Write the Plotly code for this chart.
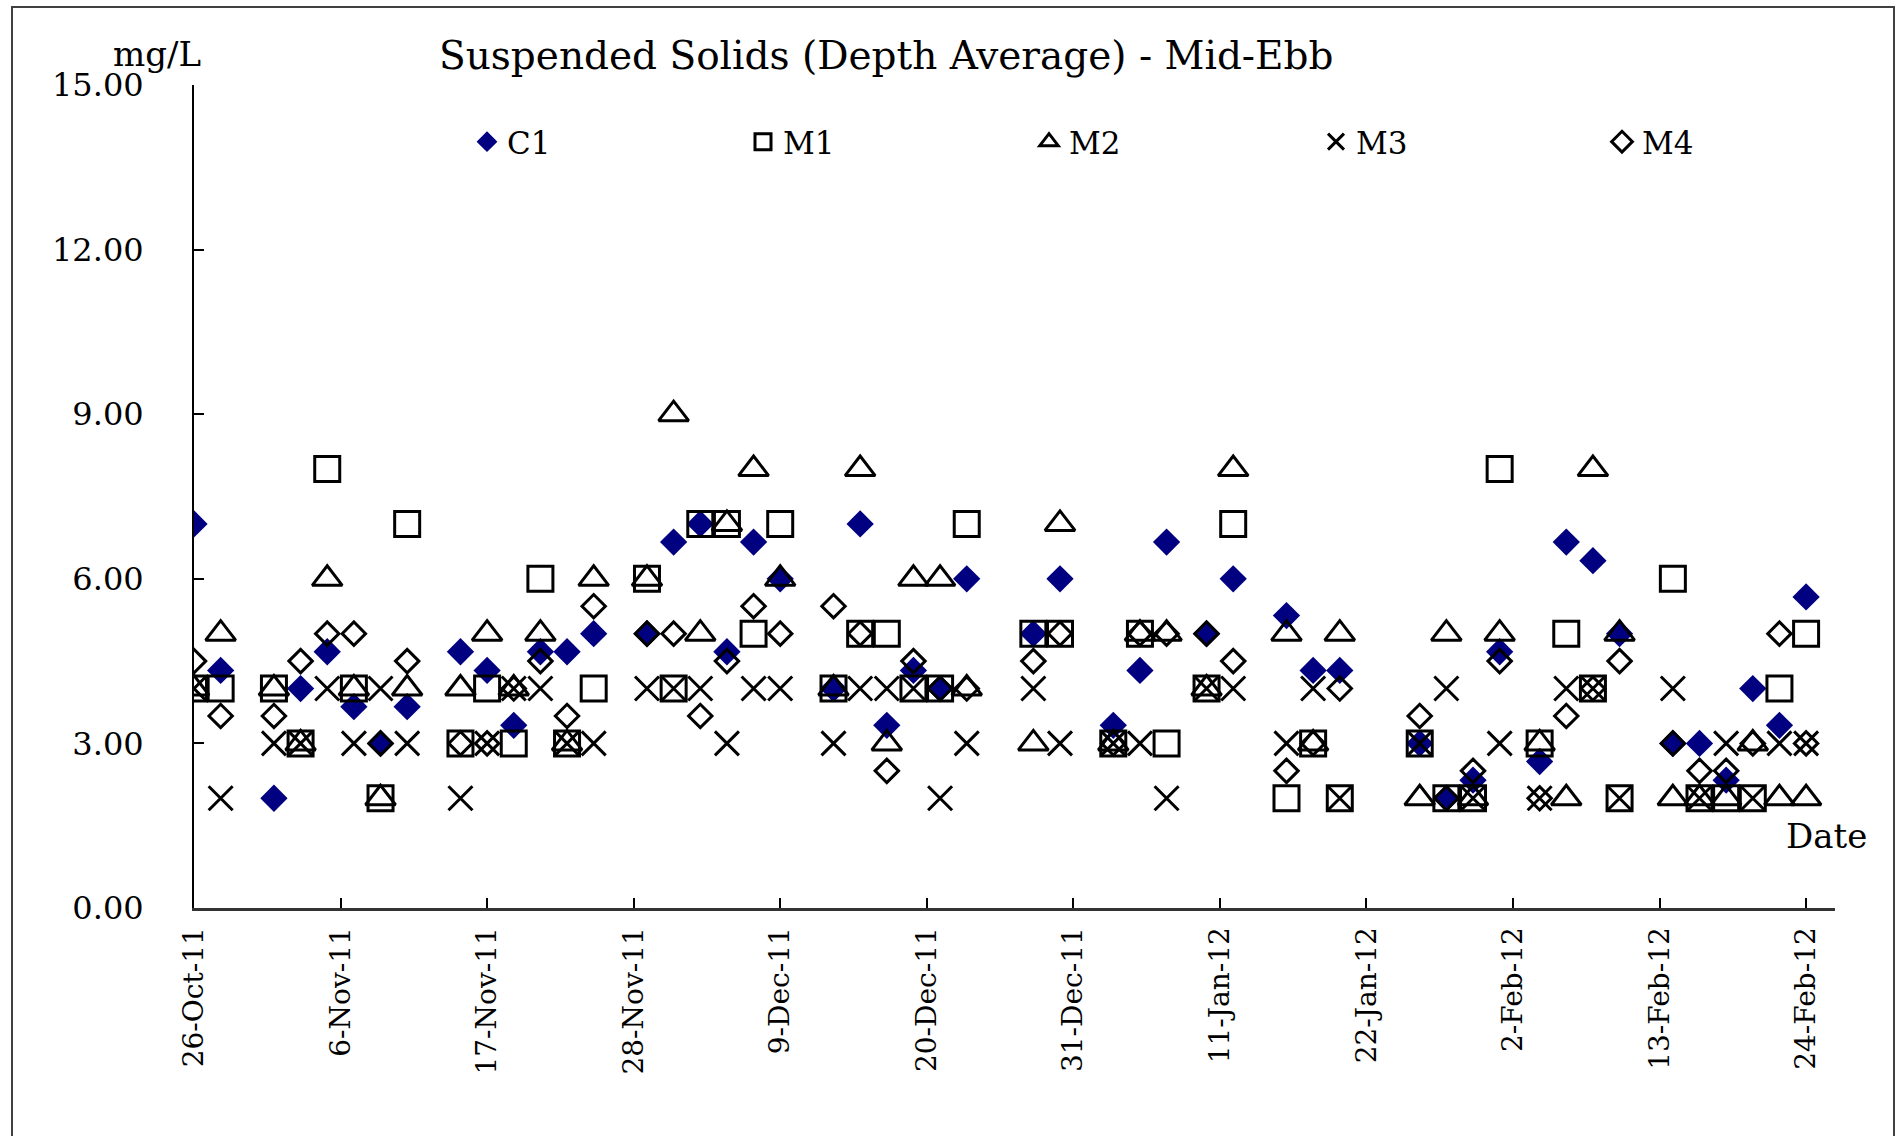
import plotly.graph_objects as go

# ---- data ----
dates = [
    "2011-10-26", "2011-10-28", "2011-11-01", "2011-11-03", "2011-11-05", "2011-11-07",
    "2011-11-09", "2011-11-11", "2011-11-15", "2011-11-17", "2011-11-19", "2011-11-21",
    "2011-11-23", "2011-11-25", "2011-11-29", "2011-12-01", "2011-12-03", "2011-12-05",
    "2011-12-07", "2011-12-09", "2011-12-13", "2011-12-15", "2011-12-17", "2011-12-19",
    "2011-12-21", "2011-12-23", "2011-12-28", "2011-12-30", "2012-01-03", "2012-01-05",
    "2012-01-07", "2012-01-10", "2012-01-12", "2012-01-16", "2012-01-18", "2012-01-20",
    "2012-01-26", "2012-01-28", "2012-01-30", "2012-02-01", "2012-02-04", "2012-02-06",
    "2012-02-08", "2012-02-10", "2012-02-14", "2012-02-16", "2012-02-18", "2012-02-20",
    "2012-02-22", "2012-02-24",
]
c1 = [7.0, 4.33, 2.0, 4.0, 4.67, 3.67, 3.0, 3.67, 4.67, 4.33, 3.33, 4.67, 4.67, 5.0,
      5.0, 6.67, 7.0, 4.67, 6.67, 6.0, 4.0, 7.0, 3.33, 4.33, 4.0, 6.0, 5.0, 6.0, 3.33,
      4.33, 6.67, 5.0, 6.0, 5.33, 4.33, 4.33, 3.0, 2.0, 2.33, 4.67, 2.67, 6.67, 6.33,
      5.0, 3.0, 3.0, 2.33, 4.0, 3.33, 5.67]
m1 = [4, 4, 4, 3, 8, 4, 2, 7, 3, 4, 3, 6, 3, 4, 6, 4, 7, 7, 5, 7, 4, 5, 5, 4, 4, 7,
      5, 5, 3, 5, 3, 4, 7, 2, 3, 2, 3, 2, 2, 8, 3, 5, 4, 2, 6, 2, 2, 2, 4, 5]
m2 = [4, 5, 4, 3, 6, 4, 2, 4, 4, 5, 4, 5, 3, 6, 6, 9, 5, 7, 8, 6, 4, 8, 3, 6, 6, 4,
      3, 7, 3, 5, 5, 4, 8, 5, 3, 5, 2, 5, 2, 5, 3, 2, 8, 5, 2, 2, 2, 3, 2, 2]
m3 = [4, 2, 3, 3, 4, 3, 4, 3, 2, 3, 4, 4, 3, 3, 4, 4, 4, 3, 4, 4, 3, 4, 4, 4, 2, 3,
      4, 3, 3, 3, 2, 4, 4, 3, 4, 2, 3, 4, 2, 3, 2, 4, 4, 2, 4, 2, 3, 2, 3, 3]
m4 = [4.5, 3.5, 3.5, 4.5, 5, 5, 3, 4.5, 3, 3, 4, 4.5, 3.5, 5.5, 5, 5, 3.5, 4.5, 5.5,
      5, 5.5, 5, 2.5, 4.5, 4, 4, 4.5, 5, 3, 5, 5, 5, 4.5, 2.5, 3, 4, 3.5, 2, 2.5, 4.5,
      2, 3.5, 4, 4.5, 3, 2.5, 2.5, 3, 5, 3]

series_names = ["C1", "M1", "M2", "M3", "M4"]
series_values = [c1, m1, m2, m3, m4]
y_ticks = [0, 3, 6, 9, 12, 15]

# ---- styles ----
styles = {
    "C1": dict(symbol="diamond", size=21, color="#000080", line=dict(width=0)),
    "M1": dict(symbol="square-open", size=25, color="black", line=dict(width=3, color="black")),
    "M2": dict(symbol="triangle-up-open", size=26, color="black", line=dict(width=3, color="black")),
    "M3": dict(symbol="x-thin-open", size=24, color="black", line=dict(width=3, color="black")),
    "M4": dict(symbol="diamond-open", size=18, color="black", line=dict(width=3, color="black")),
}
# legend symbol centres (px) for each series
legend_marker_x = {"C1": 487, "M1": 763, "M2": 1049, "M3": 1336, "M4": 1622}

FONT = "DejaVu Serif"

W, H = 1899, 1136
L, R, T, B = 194, 64, 85, 228
pw, ph = W - L - R, H - T - B


def px(x):
    return (x - L) / pw


def py(y):
    return (H - B - y) / ph


fig = go.Figure()
legend_layouts = {}
for i, (name, vals) in enumerate(zip(series_names, series_values)):
    lid = "legend" if i == 0 else f"legend{i + 1}"
    fig.add_trace(go.Scatter(x=dates, y=vals, mode="markers", name=name,
                             marker=styles[name], legend=lid,
                             hoverinfo="x+y+name"))
    legend_layouts[lid] = dict(
        x=px(legend_marker_x[name] - 20), y=py(142), xanchor="left", yanchor="middle",
        font=dict(family=FONT, size=31), bgcolor="rgba(0,0,0,0)", borderwidth=0,
        orientation="h",
    )

fig.update_layout(
    width=W, height=H,
    margin=dict(l=L, r=R, t=T, b=B, pad=0),
    paper_bgcolor="white", plot_bgcolor="white",
    font=dict(family=FONT, size=30, color="black"),
    showlegend=True,
    xaxis=dict(
        type="date", range=["2011-10-26", "2012-02-26 04:05"],
        tick0="2011-10-26", dtick=11 * 86400000, tickformat="%-d-%b-%y",
        tickangle=-90, ticks="inside", ticklen=10, tickwidth=2, tickcolor="black",
        showline=True, linecolor="#333333", linewidth=3, showgrid=False, zeroline=False,
        tickfont=dict(family=FONT, size=28), ticklabelstandoff=5,
    ),
    yaxis=dict(
        range=[0, 15], tickvals=y_ticks, tickformat=".2f",
        ticks="inside", ticklen=10, tickwidth=2, tickcolor="black",
        showline=True, linecolor="black", linewidth=2, showgrid=False, zeroline=False,
        tickfont=dict(family=FONT, size=32), ticklabelstandoff=42,
    ),
    annotations=[
        dict(text="Suspended Solids (Depth Average) - Mid-Ebb", xref="paper", yref="paper",
             x=px(886), y=py(56), xanchor="center", yanchor="middle", showarrow=False,
             font=dict(family=FONT, size=39)),
        dict(text="mg/L", xref="paper", yref="paper", x=px(157), y=py(54),
             xanchor="center", yanchor="middle", showarrow=False,
             font=dict(family=FONT, size=34)),
        dict(text="Date", xref="paper", yref="paper", x=px(1826), y=py(836),
             xanchor="center", yanchor="middle", showarrow=False,
             font=dict(family=FONT, size=34)),
    ],
    shapes=[
        dict(type="rect", xref="paper", yref="paper", x0=px(12), x1=px(1894),
             y0=py(1200), y1=py(7), line=dict(color="#404040", width=2),
             fillcolor="rgba(0,0,0,0)", layer="below"),
    ],
    **legend_layouts,
)

fig.write_html("out.html", config={"displayModeBar": False},
               post_script="document.body.style.margin='0';")
